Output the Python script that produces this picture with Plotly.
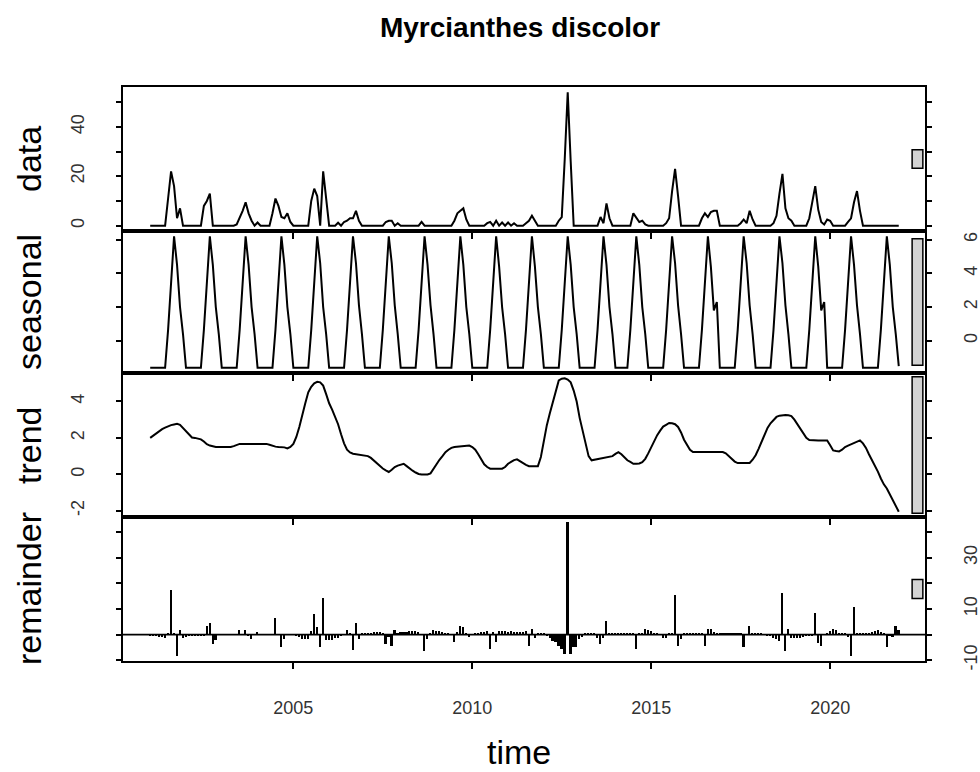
import plotly.graph_objects as go

# ---------------- data (monthly, Jan 2001 - Dec 2021) ----------------
start_year = 2001
freq = 12
title_text = "Myrcianthes discolor"
panel_labels = ["data", "seasonal", "trend", "remainder"]
x_tick_vals = [2005, 2010, 2015, 2020]

data_rows = [
    [0, 0, 0, 0, 0, 0, 11, 22, 16, 3, 7, 0],        # 2001
    [0, 0, 0, 0, 0, 0, 8, 10, 13, 0, 0, 0],         # 2002
    [0, 0, 0, 0, 0, 0.5, 3, 6, 9.5, 5, 2, 0],       # 2003
    [1.3, 0, 0, 0, 0, 5, 11, 8, 3.5, 3, 5, 1.5],    # 2004
    [0, 0, 0, 0, 0, 0, 10, 15, 12, 0, 22, 11],      # 2005
    [0, 0, 0, 1.2, 0, 1.5, 2, 3, 3, 6, 2, 0],       # 2006
    [0, 0, 0, 0, 0, 0, 0, 1.5, 2, 2, 0, 1],         # 2007
    [0, 0, 0, 0, 0, 0, 0, 1.5, 0, 0, 0, 0],         # 2008
    [0, 0, 0, 0, 0, 0, 2, 5, 6, 7, 2.5, 0],         # 2009
    [0, 0, 0, 0, 0, 1, 1.5, 0, 2, 0, 1.3, 0],       # 2010
    [1.3, 0, 1, 0, 0, 0, 1, 2, 4, 2, 0, 0],         # 2011
    [0, 0, 0, 0, 0, 2, 3.5, 27, 54, 26, 0, 0],      # 2012
    [0, 0, 0, 0, 0, 0, 0, 3.5, 1, 9, 3, 0],         # 2013
    [0, 0, 0, 0, 0, 0, 5, 3, 1.5, 2, 0.5, 0],       # 2014
    [0, 0, 0, 0, 0, 1, 3, 14, 23, 12, 0, 0],        # 2015
    [0, 0, 0, 0, 0, 3, 5, 3.5, 5.5, 6, 6, 0],       # 2016
    [0, 0, 0, 0, 0, 0, 1, 2.5, 1, 6, 2.5, 0],       # 2017
    [0, 0, 0, 0, 0, 1, 4, 13, 21, 7, 3, 2],         # 2018
    [0, 0, 0, 0, 0, 3, 9.5, 16, 6.5, 1.5, 0.5, 2.5],# 2019
    [2, 0, 0, 0, 0, 0, 1.5, 3, 9.5, 14, 6, 0],      # 2020
    [0, 0, 0, 0, 0, 0, 0, 0, 0, 0, 0, 0],           # 2021
]

seasonal_rows = [
    [-1.6, -1.6, -1.6, -1.6, -1.6, -1.6, 0.65, 3.4, 6.2, 4.5, 2.0, 0.4],   # 2001
    [-1.6, -1.6, -1.6, -1.6, -1.6, -1.6, 0.65, 3.4, 6.2, 4.5, 2.0, 0.4],   # 2002
    [-1.6, -1.6, -1.6, -1.6, -1.6, -1.6, 0.65, 3.4, 6.2, 4.5, 2.0, 0.4],   # 2003
    [-1.6, -1.6, -1.6, -1.6, -1.6, -1.6, 0.65, 3.4, 6.2, 4.5, 2.0, 0.4],   # 2004
    [-1.6, -1.6, -1.6, -1.6, -1.6, -1.6, 0.65, 3.4, 6.2, 4.6, 2.0, 0.4],   # 2005
    [-1.6, -1.6, -1.6, -1.6, -1.6, -1.6, 0.65, 3.4, 6.2, 4.6, 2.1, 0.4],   # 2006
    [-1.6, -1.6, -1.6, -1.6, -1.6, -1.6, 0.65, 3.4, 6.2, 4.6, 2.1, 0.4],   # 2007
    [-1.6, -1.6, -1.6, -1.6, -1.6, -1.6, 0.65, 3.4, 6.2, 4.5, 2.1, 0.4],   # 2008
    [-1.6, -1.6, -1.6, -1.6, -1.6, -1.6, 0.65, 3.4, 6.2, 4.5, 2.0, 0.4],   # 2009
    [-1.6, -1.6, -1.6, -1.6, -1.6, -1.6, 0.65, 3.4, 6.2, 4.4, 2.0, 0.4],   # 2010
    [-1.6, -1.6, -1.6, -1.6, -1.6, -1.6, 0.65, 3.4, 6.2, 4.4, 2.0, 0.4],   # 2011
    [-1.6, -1.6, -1.6, -1.6, -1.6, -1.6, 0.65, 3.4, 6.2, 4.5, 2.0, 0.4],   # 2012
    [-1.6, -1.6, -1.6, -1.6, -1.6, -1.6, 0.65, 3.4, 6.2, 4.5, 2.0, 0.4],   # 2013
    [-1.6, -1.6, -1.6, -1.6, -1.6, 0.65, 3.4, 6.2, 4.5, 2.0, 0.4, -1.6],   # 2014
    [-1.6, -1.6, -1.6, -1.6, -1.6, 0.65, 3.4, 6.2, 4.6, 2.1, 0.4, -1.6],   # 2015
    [-1.6, -1.6, -1.6, -1.6, -1.6, 0.65, 3.4, 6.2, 4.4, 1.8, 2.3, -1.6],   # 2016
    [-1.6, -1.6, -1.6, -1.6, -1.6, 0.65, 3.4, 6.2, 4.6, 2.1, 0.4, -1.6],   # 2017
    [-1.6, -1.6, -1.6, -1.6, -1.6, 0.65, 3.4, 6.2, 4.6, 2.1, 0.4, -1.6],   # 2018
    [-1.6, -1.6, -1.6, -1.6, -1.6, 0.65, 3.4, 6.2, 4.4, 1.8, 2.3, -1.6],   # 2019
    [-1.6, -1.6, -1.6, -1.6, -1.6, 0.65, 3.4, 6.2, 4.5, 2.1, 0.4, -1.6],   # 2020
    [-1.6, -1.6, -1.6, -1.6, -1.6, 0.65, 3.4, 6.2, 4.5, 2.0, 0.4, -1.5],   # 2021
]

trend_rows = [
    [2.00, 2.12, 2.25, 2.38, 2.48, 2.56, 2.64, 2.70, 2.74, 2.77, 2.72, 2.55],    # 2001
    [2.35, 2.15, 2.02, 2.00, 1.98, 1.92, 1.80, 1.65, 1.58, 1.53, 1.50, 1.50],    # 2002
    [1.50, 1.50, 1.50, 1.50, 1.55, 1.62, 1.67, 1.67, 1.67, 1.67, 1.67, 1.67],    # 2003
    [1.67, 1.67, 1.67, 1.67, 1.62, 1.55, 1.52, 1.50, 1.50, 1.48, 1.42, 1.50],    # 2004
    [1.67, 2.05, 2.60, 3.30, 3.90, 4.50, 4.80, 5.00, 5.08, 5.05, 4.87, 4.40],    # 2005
    [3.90, 3.55, 3.15, 2.75, 2.20, 1.70, 1.35, 1.20, 1.13, 1.10, 1.08, 1.07],    # 2006
    [1.05, 1.00, 0.90, 0.75, 0.58, 0.45, 0.32, 0.22, 0.13, 0.25, 0.40, 0.48],    # 2007
    [0.52, 0.58, 0.45, 0.30, 0.20, 0.10, 0.02, -0.01, -0.01, -0.01, 0.05, 0.30], # 2008
    [0.58, 0.80, 1.00, 1.22, 1.35, 1.45, 1.50, 1.52, 1.55, 1.56, 1.58, 1.58],    # 2009
    [1.50, 1.35, 1.10, 0.80, 0.55, 0.40, 0.31, 0.31, 0.31, 0.31, 0.31, 0.40],    # 2010
    [0.58, 0.68, 0.78, 0.82, 0.72, 0.58, 0.52, 0.45, 0.45, 0.45, 0.45, 0.95],    # 2011
    [1.85, 2.70, 3.35, 3.95, 4.55, 5.15, 5.25, 5.27, 5.20, 5.05, 4.60, 4.00],    # 2012
    [3.10, 2.40, 1.60, 1.00, 0.77, 0.80, 0.83, 0.86, 0.90, 0.93, 0.97, 1.00],    # 2013
    [1.12, 1.22, 1.10, 0.95, 0.77, 0.68, 0.58, 0.58, 0.60, 0.67, 0.85, 1.15],    # 2014
    [1.50, 1.85, 2.15, 2.40, 2.62, 2.72, 2.82, 2.80, 2.75, 2.60, 2.30, 1.90],    # 2015
    [1.60, 1.35, 1.22, 1.22, 1.22, 1.22, 1.22, 1.22, 1.22, 1.22, 1.22, 1.22],    # 2016
    [1.22, 1.15, 1.00, 0.85, 0.70, 0.62, 0.62, 0.62, 0.62, 0.62, 0.80, 1.05],    # 2017
    [1.40, 1.80, 2.25, 2.55, 2.80, 3.00, 3.15, 3.22, 3.26, 3.26, 3.24, 3.20],    # 2018
    [3.00, 2.75, 2.45, 2.20, 2.00, 1.88, 1.86, 1.86, 1.86, 1.86, 1.86, 1.86],    # 2019
    [1.60, 1.31, 1.28, 1.26, 1.35, 1.50, 1.58, 1.65, 1.73, 1.80, 1.86, 1.70],    # 2020
    [1.45, 1.10, 0.80, 0.50, 0.15, -0.23, -0.55, -0.78, -1.10, -1.40, -1.75, -2.05], # 2021
]

remainder_rows = [
    [-0.4, -0.5, -0.6, -0.8, -0.9, -1.5, 0.5, 17.5, 0.5, -8.2, 2.0, -1.2],   # 2001
    [-0.8, -0.5, -0.4, -0.4, -0.4, -0.3, -0.5, 3.5, 4.7, -3.7, -2.0, 0.1],   # 2002
    [0.1, 0.1, 0.1, 0.1, 0.0, 0.0, 2.0, 0.0, 2.0, -0.5, -1.6, 0.0],          # 2003
    [1.0, 0.0, 0.0, 0.0, 0.0, 0.1, 6.4, 0.0, -5.0, -1.7, 0.2, 0.1],          # 2004
    [0.0, -0.4, -1.0, -1.7, -1.7, -1.6, 1.5, 8.0, 3.0, -5.0, 14.4, -2.2],    # 2005
    [-2.2, -2.0, -1.5, -1.2, -0.6, -0.1, 2.0, 0.4, -5.8, 4.7, -1.7, 0.5],    # 2006
    [0.6, 0.7, 0.7, 0.9, 1.0, 1.1, 0.5, -3.5, -1.0, -4.5, 2.0, 0.8],         # 2007
    [1.1, 1.0, 1.2, 1.3, 1.4, 1.5, 1.0, 0.2, -6.3, -1.7, 0.5, 1.8],          # 2008
    [1.5, 1.5, 0.9, 0.5, 0.3, 0.2, -3.0, 1.0, 3.2, 3.0, 0.3, -1.0],          # 2009
    [0.2, 0.4, 0.8, 1.0, 1.2, 1.3, -5.5, 1.2, -3.0, 1.5, 1.5, 1.3],          # 2010
    [1.2, 1.6, 0.9, 1.0, 1.1, 1.2, 1.4, -4.3, 2.1, -1.3, 0.8, 0.8],          # 2011
    [0.6, -0.2, -1.3, -2.3, -3.0, -4.3, -5.5, -7.5, 43.8, -7.5, -5.0, -4.8], # 2012
    [-1.7, -1.0, 0.3, 0.8, 0.8, 0.8, -1.5, -3.7, -1.3, 5.4, 0.8, 0.8],       # 2013
    [0.8, 0.8, 0.8, 0.8, 0.8, 0.8, 0.8, -5.5, 0.8, 0.5, 2.1, 2.0],           # 2014
    [1.5, 0.5, 0.3, 0.0, -1.5, -1.5, 0.3, 0.5, 15.3, -4.3, -1.7, 0.3],       # 2015
    [0.3, 0.8, 0.8, 0.8, 0.8, 0.8, -4.3, 2.1, 2.1, 1.0, 0.8, 0.8],           # 2016
    [0.8, 0.8, 0.8, 0.8, 0.8, 0.8, 0.5, -5.0, 0.0, 3.2, 0.8, 0.8],           # 2017
    [0.5, 0.3, 0.0, -0.3, -0.5, -1.3, -1.8, -2.5, 16.3, -6.3, 2.1, -1.5],    # 2018
    [-1.5, -1.5, -1.5, -0.8, -0.5, -0.5, -0.5, 8.6, -3.2, -4.3, 0.0, 0.5],   # 2019
    [1.5, 2.1, 1.8, 0.8, 0.8, 0.8, -1.0, -8.2, 10.8, 0.5, 0.8, 0.8],         # 2020
    [0.8, 0.8, 1.0, 1.5, 2.0, 1.2, 0.5, -5.0, -0.5, -0.8, 3.2, 2.0],         # 2021
]

# ---------------- assemble series ----------------
def flat(rows):
    return [v for r in rows for v in r]

series = [flat(data_rows), flat(seasonal_rows), flat(trend_rows), flat(remainder_rows)]
n = len(series[0])
t = [start_year + i / freq for i in range(n)]

x_range = [2000.24, 2022.65]
bar_x = [2022.29, 2022.59]
bar_half = 3.75

# plot-area geometry (pixels of a 980x772 page)
W, H = 980, 772
left, right, top, bottom = 123, 925, 87, 661
panel_edges = [87, 231, 373, 517, 661]
ph = bottom - top
domains = []
for i in range(4):
    y0 = (bottom - panel_edges[i + 1]) / ph
    y1 = (bottom - panel_edges[i]) / ph
    domains.append([y0, y1])

tick_sets = [
    ([0, 10, 20, 30, 40, 50], ["0", "", "20", "", "40", ""]),
    ([0, 2, 4, 6], ["0", "2", "4", "6"]),
    ([-2, 0, 2, 4], ["-2", "0", "2", "4"]),
    ([-10, 0, 10, 20, 30, 40], ["-10", "", "10", "", "30", ""]),
]

fig = go.Figure()
font_family = "Liberation Sans, Arial, sans-serif"
tick_font = dict(family=font_family, size=18, color="#333")

for i in range(4):
    ys = series[i]
    xa = "x" if i == 0 else f"x{i+1}"
    ya = "y" if i == 0 else f"y{i+1}"
    if i < 3:
        fig.add_trace(go.Scatter(x=t, y=ys, mode="lines", xaxis=xa, yaxis=ya,
                                 line=dict(color="black", width=2), showlegend=False,
                                 hoverinfo="skip"))
    else:
        fig.add_trace(go.Bar(x=t, y=ys, xaxis=xa, yaxis=ya, width=0.55 / freq,
                             marker=dict(color="black", line=dict(width=0)),
                             showlegend=False, hoverinfo="skip"))
    lo, hi = min(ys), max(ys)
    pad = 0.04 * (hi - lo)
    yr = [lo - pad, hi + pad]
    tv, tt = tick_sets[i]
    right_side = (i % 2 == 1)
    xkey = "xaxis" if i == 0 else f"xaxis{i+1}"
    ykey = "yaxis" if i == 0 else f"yaxis{i+1}"
    fig.layout[xkey] = dict(
        domain=[0, 1], anchor=ya, range=x_range, showgrid=False, zeroline=False,
        showline=True, mirror=True, linecolor="black", linewidth=1.6,
        ticks="outside", ticklen=6, tickwidth=1.5, tickcolor="black",
        tickvals=x_tick_vals, showticklabels=(i == 3),
        tickfont=tick_font, ticklabelstandoff=24, automargin=False,
    )
    fig.layout[ykey] = dict(
        domain=domains[i], anchor=xa, range=yr, showgrid=False, zeroline=False,
        showline=True, mirror="ticks", linecolor="black", linewidth=1.6,
        ticks="outside", ticklen=5, tickwidth=1.5, tickcolor="black",
        tickvals=tv, ticktext=tt, tickangle=-90,
        side="right" if right_side else "left",
        tickfont=tick_font, automargin=False,
        ticklabelstandoff=(24 if right_side else 25),
    )
    # range bar (same length in data units in every panel)
    mid = (lo + hi) / 2
    fig.add_shape(type="rect", xref=xa, yref=ya, x0=bar_x[0], x1=bar_x[1],
                  y0=mid - bar_half, y1=mid + bar_half,
                  fillcolor="#d3d3d3", line=dict(color="black", width=1.5), layer="above")
    # panel label
    fig.add_annotation(text=panel_labels[i], xref="paper", yref="paper",
                       x=(29 - left) / (right - left), y=(domains[i][0] + domains[i][1]) / 2,
                       xanchor="center", yanchor="middle", textangle=-90, showarrow=False,
                       font=dict(family=font_family, size=34, color="black"))

# horizontal zero line in remainder panel
fig.add_shape(type="line", xref="x4 domain", yref="y4", x0=0, x1=1, y0=0, y1=0,
              line=dict(color="black", width=1.8))

fig.add_annotation(text="time", xref="paper", yref="paper",
                   x=(519 - left) / (right - left), y=(bottom - 752) / ph,
                   xanchor="center", yanchor="middle", showarrow=False,
                   font=dict(family=font_family, size=34, color="black"))

fig.update_layout(
    width=W, height=H,
    margin=dict(l=left, r=W - right, t=top, b=H - bottom, pad=0, autoexpand=False),
    paper_bgcolor="white", plot_bgcolor="white",
    title=dict(text="<b>" + title_text + "</b>", x=520 / W, xanchor="center",
               y=1 - 27 / H, yanchor="middle", automargin=False,
               font=dict(family=font_family, size=28, color="black")),
    bargap=0, showlegend=False,
)

fig.write_html("out.html")
